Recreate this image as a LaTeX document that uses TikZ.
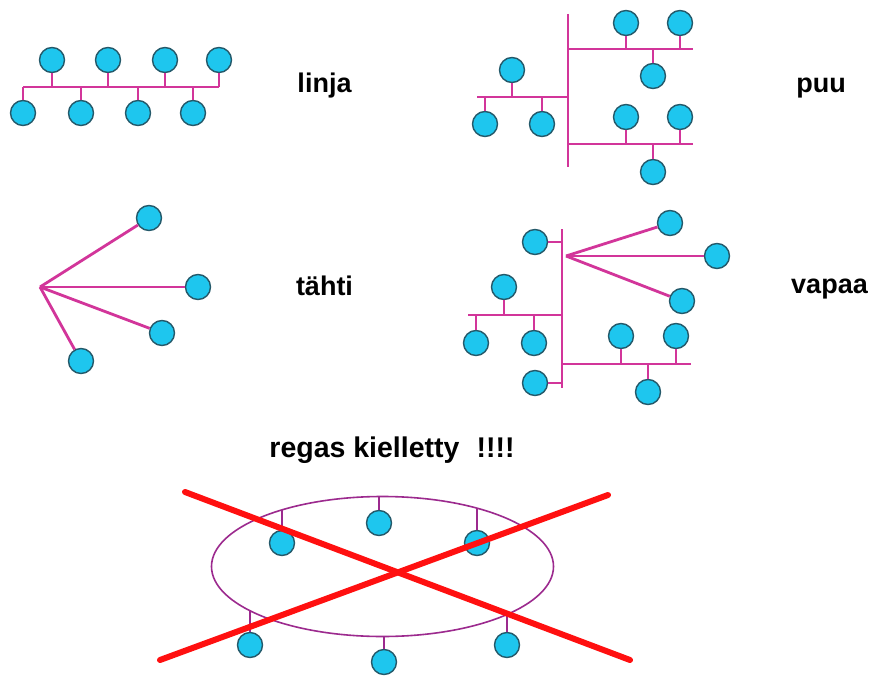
\documentclass[tikz,border=0pt]{standalone}
\usepackage{fontspec}
\setmainfont{Liberation Sans}
\definecolor{nodefill}{HTML}{1EC6EE}
\definecolor{nodeedge}{HTML}{24596A}
\definecolor{wirecol}{HTML}{D2359A}
\definecolor{ringcol}{HTML}{9C2A8E}
\definecolor{crosscol}{HTML}{FF1010}
\begin{document}
\begin{tikzpicture}[x=1bp,y=-1bp,
  station/.style={circle,draw=nodeedge,fill=nodefill,line width=1.4bp,minimum size=25bp,inner sep=0pt},
  wire/.style={draw=wirecol,line width=2.8bp},
  ringline/.style={draw=ringcol,line width=1.6bp},
  crossline/.style={draw=crosscol,line width=6bp,line cap=round},
  lbl/.style={font=\bfseries\fontsize{27bp}{30bp}\selectfont,anchor=base,inner sep=0pt}]
\useasboundingbox[fill=white] (0,0) rectangle (872,678);

% ---------- linja ----------
\coordinate (lbL) at (23,87);
\coordinate (lbR) at (219,87);
\draw[wire] (lbL) -- (lbR);
\foreach \n/\x in {lt1/52,lt2/108,lt3/165,lt4/219}{
  \node[station] (\n) at (\x,60) {};
  \draw[wire] (\n) -- (\n |- lbL);
}
\foreach \n/\x in {lb1/23,lb2/81,lb3/138,lb4/193}{
  \node[station] (\n) at (\x,113) {};
  \draw[wire] (\n) -- (\n |- lbL);
}
\node[lbl] (tlinja) at (324.5,93) {linja};

% ---------- puu ----------
\coordinate (pvT) at (568,14);
\coordinate (pvB) at (568,167);
\draw[wire] (pvT) -- (pvB);
\coordinate (ptA) at (568,49);  \coordinate (ptB) at (693,49);
\coordinate (pbA) at (568,144); \coordinate (pbB) at (693,144);
\coordinate (plA) at (477,97);  \coordinate (plB) at (568,97);
\draw[wire] (ptA) -- (ptB);
\draw[wire] (pbA) -- (pbB);
\draw[wire] (plA) -- (plB);
\foreach \n/\x/\y/\b in {pt1/626/23/ptA,pt2/680/23/ptA,pt3/653/76/ptA,
                         pb1/626/117/pbA,pb2/680/117/pbA,pb3/653/172/pbA,
                         pl1/512/70/plA,pl2/485/124/plA,pl3/542/124/plA}{
  \node[station] (\n) at (\x,\y) {};
  \draw[wire] (\n) -- (\n |- \b);
}
\node[lbl] (tpuu) at (821,93) {puu};

% ---------- tähti ----------
\coordinate (thub) at (40,287);
\node[station] (ts1) at (149,218) {};
\node[station] (ts2) at (198,287) {};
\node[station] (ts3) at (162,333) {};
\node[station] (ts4) at (81,361) {};
\foreach \n in {ts1,ts2,ts3,ts4}{\draw[wire] (thub) -- (\n);}
\node[lbl] (ttahti) at (324.5,295) {tähti};

% ---------- vapaa ----------
\coordinate (vvT) at (562,229);
\coordinate (vvB) at (562,388);
\draw[wire] (vvT) -- (vvB);
\coordinate (vhub) at (566,256);
\node[station] (vs1) at (670,223) {};
\node[station] (vs2) at (717,256) {};
\node[station] (vs3) at (682,301) {};
\foreach \n in {vs1,vs2,vs3}{\draw[wire] (vhub) -- (\n);}
\node[station] (vtl) at (535,242) {};
\node[station] (vbl) at (535,383) {};
\draw[wire] (vtl) -- (vtl -| vvT);
\draw[wire] (vbl) -- (vbl -| vvT);
\coordinate (vlA) at (468,315); \coordinate (vlB) at (562,315);
\coordinate (vrA) at (562,364); \coordinate (vrB) at (691,364);
\draw[wire] (vlA) -- (vlB);
\draw[wire] (vrA) -- (vrB);
\foreach \n/\x/\y/\b in {vl1/504/287/vlA,vl2/476/343/vlA,vl3/534/343/vlA,
                         vr1/621/336/vrA,vr2/676/336/vrA,vr3/648/392/vrA}{
  \node[station] (\n) at (\x,\y) {};
  \draw[wire] (\n) -- (\n |- \b);
}
\node[lbl] (tvapaa) at (829.5,293) {vapaa};

% ---------- regas ----------
\node[lbl,font=\bfseries\fontsize{28.5bp}{31bp}\selectfont] (tregas) at (392,457) {regas kielletty\hspace{0.6em}!!!!};
\coordinate (rc) at (382.5,566.5);
\coordinate (e1) at (379,496.5);
\coordinate (e2) at (281,510);
\coordinate (e3) at (477,508);
\coordinate (e4) at (250,610.8);
\coordinate (e5) at (384,636.5);
\coordinate (e6) at (507,614.5);
\node[station] (r1) at (379,523) {};
\node[station] (r2) at (282,543) {};
\node[station] (r3) at (477,543) {};
\node[station] (r4) at (250,645) {};
\node[station] (r5) at (384,662) {};
\node[station] (r6) at (507,645) {};
\foreach \n/\e in {r1/e1,r2/e2,r3/e3,r4/e4,r5/e5,r6/e6}{
  \draw[ringline] (\n) -- (\n |- \e);
}
\draw[ringline] (rc) ellipse [x radius=171, y radius=70];

\coordinate (xa1) at (185,492);
\coordinate (xa2) at (630,660);
\coordinate (xb1) at (608,495);
\coordinate (xb2) at (160,660);
\draw[crossline] (xa1) -- (xa2);
\draw[crossline] (xb1) -- (xb2);
\end{tikzpicture}
\end{document}
